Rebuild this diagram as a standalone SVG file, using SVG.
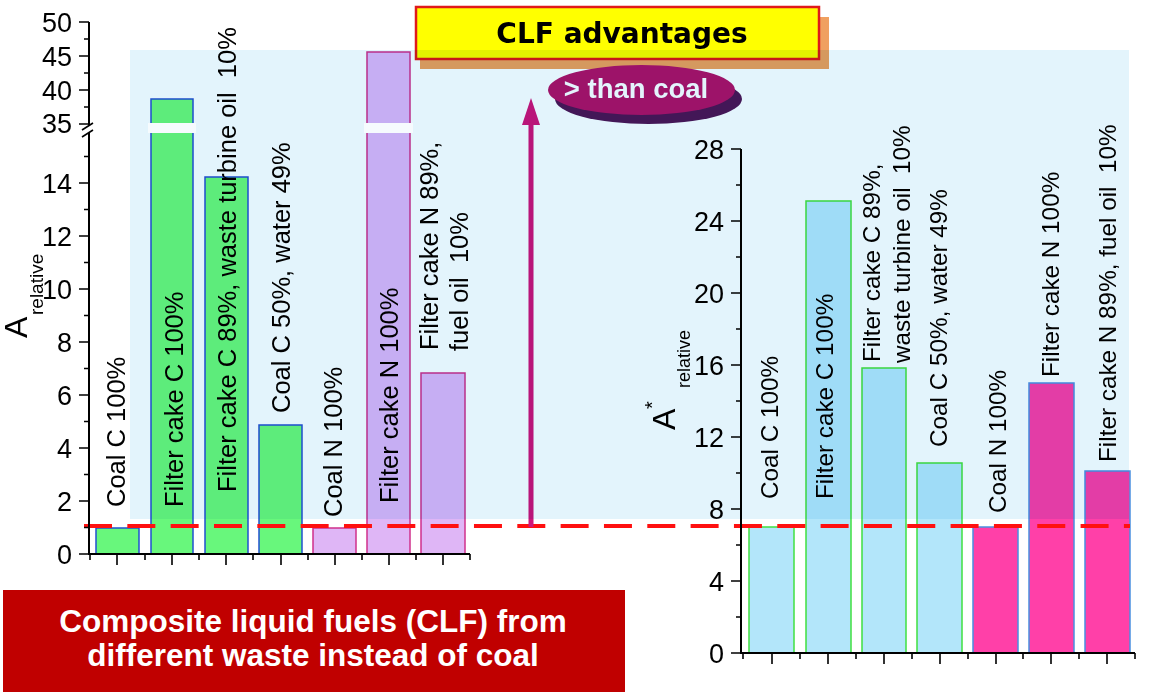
<svg xmlns="http://www.w3.org/2000/svg" width="1160" height="692" viewBox="0 0 1160 692">
<style>
  .axis{stroke:#000;stroke-width:2;fill:none}
  .tick{stroke:#000;stroke-width:1.6;fill:none}
  .tl{font-family:"Liberation Sans",Arial,sans-serif;font-size:27px;fill:#000;text-anchor:end}
  .lbl{font-family:"Liberation Sans",Arial,sans-serif;font-size:25.5px;fill:#000;white-space:pre}
  .lbr{font-family:"Liberation Sans",Arial,sans-serif;font-size:24.3px;fill:#000;white-space:pre}
  .gb{fill:#68F77C;stroke:#2050D0;stroke-width:1.5}
  .pb{fill:#DFB6F6;stroke:#D0308C;stroke-width:1.5}
  .bb{fill:#B3E6FA;stroke:#40E040;stroke-width:1.5}
  .mb{fill:#FF40A8;stroke:#4A90E0;stroke-width:1.5}
  .ax{font-family:"Liberation Sans",Arial,sans-serif;fill:#000}
</style>
<rect width="1160" height="692" fill="#fff"/>

<!-- left chart bars -->
<g id="left-bars">
  <g id="l1"><rect class="gb" x="96" y="528" width="43" height="26"/></g>
  <g id="l2"><rect class="gb" x="151" y="99" width="42" height="455"/></g>
  <g id="l3"><rect class="gb" x="205" y="177" width="43" height="377"/></g>
  <g id="l4"><rect class="gb" x="259" y="425" width="43" height="129"/></g>
  <g id="l5"><rect class="pb" x="313" y="528" width="43" height="26"/></g>
  <g id="l6"><rect class="pb" x="367" y="52" width="43" height="502"/></g>
  <g id="l7"><rect class="pb" x="421" y="373" width="44" height="181"/></g>
</g>

<!-- right chart bars -->
<g id="right-bars">
  <g id="r1"><rect class="bb" x="749" y="527" width="45" height="126"/></g>
  <g id="r2"><rect class="bb" x="806" y="201" width="45" height="452"/></g>
  <g id="r3"><rect class="bb" x="862" y="368" width="44" height="285"/></g>
  <g id="r4"><rect class="bb" x="917" y="463" width="45" height="190"/></g>
  <g id="r5"><rect class="mb" x="973" y="527" width="45" height="126"/></g>
  <g id="r6"><rect class="mb" x="1029" y="383" width="45" height="270"/></g>
  <g id="r7"><rect class="mb" x="1085" y="471" width="45" height="182"/></g>
</g>

<!-- title box -->
<g id="clf-advantages">
  <rect x="420" y="17" width="409" height="52" fill="#F0A060"/>
  <rect x="416" y="7" width="403" height="52" fill="#FFFF00" stroke="#E01A1A" stroke-width="2.5"/>
  <text x="622" y="43" font-family="'DejaVu Sans',sans-serif" font-weight="bold" font-size="28" text-anchor="middle" fill="#000">CLF advantages</text>
</g>

<g id="than-coal">
  <ellipse cx="648.5" cy="99" rx="93.5" ry="25" fill="#4B1858"/>
  <ellipse cx="641.5" cy="90" rx="93.5" ry="25" fill="#B0136A"/>
  <text x="636" y="98" font-family="'Liberation Sans',Arial,sans-serif" font-weight="bold" font-size="27.5" text-anchor="middle" fill="#fff">&gt; than coal</text>
</g>

<!-- connectors -->
<g id="connectors">
  <line x1="84" y1="526" x2="1130" y2="526" stroke="#FF1010" stroke-width="4" stroke-dasharray="28 15.33"/>
  <line x1="531" y1="527" x2="531" y2="120" stroke="#D0157A" stroke-width="5"/>
  <polygon points="531,98 522,125 540,125" fill="#D0157A"/>
</g>

<!-- shaded panel -->
<rect id="panel" x="130" y="50" width="999" height="469" fill="#E3F4FC" style="mix-blend-mode:multiply"/>

<!-- break gaps -->
<rect x="148" y="123" width="48" height="10" fill="#F6FBFE"/>
<rect x="364" y="123" width="49" height="10" fill="#F6FBFE"/>

<!-- left axis -->
<g id="left-axis">
  <path class="axis" d="M89 22V126M89 133V554H470"/>
  <path class="tick" d="M79 22H89M84 39H89M79 56H89M84 73H89M79 90H89M84 107H89M79 124H89
    M79 554H89M84 527.5H89M79 501H89M84 474.5H89M79 448H89M84 421.5H89M79 395H89M84 368.5H89M79 342H89M84 315.5H89M79 289H89M84 262.5H89M79 236H89M84 209.5H89M79 183H89M84 156.5H89"/>
  <path class="tick" d="M82 130L93 123M82 137L93 130"/>
  <path class="tick" d="M90 554V560M117 554V565M145 554V560M172 554V565M199 554V560M226 554V565M253 554V560M281 554V565M308 554V560M335 554V565M362 554V560M389 554V565M416 554V560M443 554V565M470 554V560"/>
  <g class="tl">
    <text x="72" y="32">50</text><text x="72" y="66">45</text><text x="72" y="100">40</text><text x="72" y="133">35</text>
    <text x="72" y="193">14</text><text x="72" y="246">12</text><text x="72" y="299">10</text><text x="72" y="352">8</text>
    <text x="72" y="405">6</text><text x="72" y="458">4</text><text x="72" y="511">2</text><text x="72" y="564">0</text>
  </g>
  <text class="ax" transform="rotate(-90)"><tspan x="-338" y="27" font-size="32">A</tspan><tspan x="-315" y="43" font-size="19">relative</tspan></text>
</g>

<!-- right axis -->
<g id="right-axis">
  <path class="axis" d="M741 149V653H1135"/>
  <path class="tick" d="M731 149H741M736 185H741M731 221H741M736 257H741M731 293H741M736 329H741M731 365H741M736 401H741M731 437H741M736 473H741M731 509H741M736 545H741M731 581H741M736 617H741M731 653H741"/>
  <path class="tick" d="M743 653V659M772 653V664M800 653V659M828 653V664M856 653V659M884 653V664M912 653V659M940 653V664M968 653V659M996 653V664M1023 653V659M1051 653V664M1079 653V659M1107 653V664M1135 653V659"/>
  <g class="tl">
    <text x="724" y="159">28</text><text x="724" y="231">24</text><text x="724" y="303">20</text><text x="724" y="375">16</text>
    <text x="724" y="447">12</text><text x="724" y="519">8</text><text x="724" y="591">4</text><text x="724" y="663">0</text>
  </g>
  <text class="ax" transform="rotate(-90)"><tspan x="-430" y="675" font-size="32">A</tspan><tspan x="-409" y="659" font-size="20">*</tspan><tspan x="-388" y="690" font-size="18">relative</tspan></text>
</g>

<!-- left labels -->
<g id="left-labels" class="lbl" xml:space="preserve">
  <text transform="rotate(-90)" x="-507" y="125">Coal C 100%</text>
  <text transform="rotate(-90)" x="-507" y="183">Filter cake C 100%</text>
  <text transform="rotate(-90)" x="-492" y="236" xml:space="preserve">Filter cake C 89%, waste turbine oil&#160; 10%</text>
  <text transform="rotate(-90)" x="-413" y="290">Coal C 50%, water 49%</text>
  <text transform="rotate(-90)" x="-517" y="342">Coal N 100%</text>
  <text transform="rotate(-90)" x="-503" y="398">Filter cake N 100%</text>
  <text transform="rotate(-90)" x="-350" y="438">Filter cake N 89%,</text>
  <text transform="rotate(-90)" x="-351" y="468" xml:space="preserve">fuel oil&#160; 10%</text>
</g>

<!-- right labels -->
<g id="right-labels" class="lbr" xml:space="preserve">
  <text transform="rotate(-90)" x="-499" y="778">Coal C 100%</text>
  <text transform="rotate(-90)" x="-499" y="833">Filter cake C 100%</text>
  <text transform="rotate(-90)" x="-362" y="880">Filter cake C 89%,</text>
  <text transform="rotate(-90)" x="-363" y="910" xml:space="preserve">waste turbine oil&#160; 10%</text>
  <text transform="rotate(-90)" x="-447" y="947">Coal C 50%, water 49%</text>
  <text transform="rotate(-90)" x="-513" y="1006">Coal N 100%</text>
  <text transform="rotate(-90)" x="-377" y="1059">Filter cake N 100%</text>
  <text transform="rotate(-90)" x="-462" y="1116" xml:space="preserve">Filter cake N 89%, fuel oil&#160; 10%</text>
</g>

<!-- bottom box -->
<g id="clf-box">
  <rect x="3" y="590" width="622" height="102" fill="#C00000"/>
  <g font-family="'Liberation Sans',Arial,sans-serif" font-weight="bold" font-size="31.5" fill="#fff" text-anchor="middle">
    <text x="313" y="632">Composite liquid fuels (CLF) from</text>
    <text x="313" y="666">different waste instead of coal</text>
  </g>
</g>
</svg>
